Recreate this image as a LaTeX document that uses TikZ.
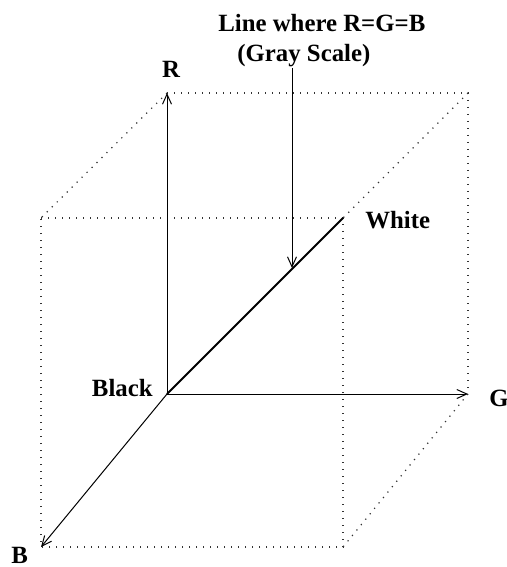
\documentclass[tikz,border=0pt]{standalone}
\usepackage{fontspec}
\setmainfont{Liberation Serif}
\usetikzlibrary{arrows.meta}

\begin{document}
\begin{tikzpicture}[x=0.5pt,y=-0.5pt,
    axis/.style={line width=0.5pt,-{Straight Barb[length=5pt,width=4.5pt,line width=0.5pt]}},
    edge/.style={line width=0.6pt,black!80,dash pattern=on 0.6pt off 2.9pt},
    lbl/.style={inner sep=0pt,font=\fontsize{12.4}{15}\selectfont\bfseries}]
  \useasboundingbox (0,0) rectangle (507,567);
  % back face corners
  \coordinate (O) at (167,394);
  \coordinate (R) at (167,93);
  \coordinate (RG) at (468,93);
  \coordinate (G) at (468,394);
  % front face corners
  \coordinate (RB) at (41,218);
  \coordinate (W) at (343,218);
  \coordinate (GB) at (343,547);
  \coordinate (B) at (41,547);
  % cube edges
  \draw[edge] (RB) -- (W) -- (GB) -- (B) -- (RB);
  \draw[edge] (R) -- (RG) -- (G);
  \draw[edge] (R) -- (RB);
  \draw[edge] (RG) -- (W);
  \draw[edge] (G) -- (GB);
  % axes and gray line
  \draw[axis] (O) -- (R);
  \draw[axis] (O) -- (G);
  \draw[axis] (O) -- (B);
  \draw[line width=1pt] (O) -- (W);
  % labels
  \node[lbl,anchor=base] (rlbl) at (171,78) {R};
  \node[lbl,anchor=base west] (glbl) at (489,406) {G};
  \node[lbl,anchor=base west] (blbl) at (11,563) {B};
  \node[lbl,anchor=base east] (black) at (153,396) {Black};
  \node[lbl,anchor=base west] (white) at (365,228) {White};
  \node[lbl,anchor=base west] (lineA) at (218,32) {Line where R=G=B};
  \node[lbl,anchor=base west] (lineB) at (237,62) {(Gray Scale)};
  \coordinate (gtip) at (292,268);
  \draw[axis] (lineB.south -| gtip) -- (gtip);
\end{tikzpicture}
\end{document}
